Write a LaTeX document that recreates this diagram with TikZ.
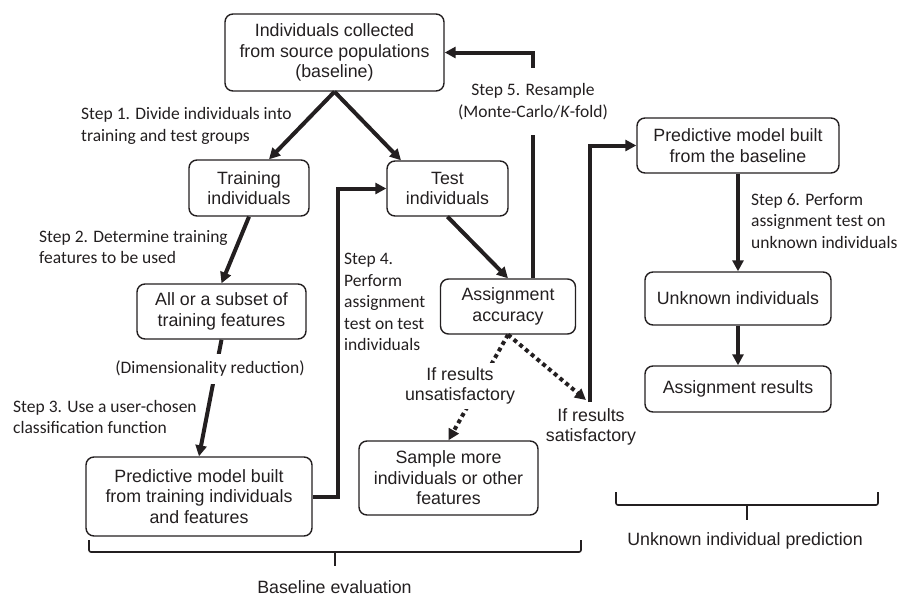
\documentclass[tikz,border=0pt]{standalone}
\usepackage{fontspec}
\setmainfont{Liberation Sans}
\newfontfamily\stepfamily{Carlito}
\usetikzlibrary{arrows.meta}
\newcommand{\boxfnt}{\fontsize{17.8}{20.5}\selectfont}
\newcommand{\stepfnt}{\stepfamily\fontsize{17.5}{21.5}\selectfont}
\definecolor{ink}{HTML}{231F20}
\tikzset{
  box/.style={draw=ink, line width=1.4pt, rounded corners=8pt, align=center, inner sep=0pt, font=\boxfnt, text=ink},
  arr/.style={draw=ink, line width=4pt, -{Triangle[length=11pt,width=11pt]}},
  dotline/.style={draw=ink, line width=4pt, dash pattern=on 4pt off 3.5pt},
  dotarr/.style={dotline, -{Triangle[length=11pt,width=11pt]}},
  lbl/.style={font=\stepfnt, align=left, inner sep=0pt, text=ink},
  plainlbl/.style={font=\boxfnt, align=center, inner sep=0pt, text=ink},
  bracepath/.style={draw=ink, line width=1.6pt, rounded corners=2pt}
}
\begin{document}
\begin{tikzpicture}[x=1pt,y=-1pt]
\useasboundingbox (0,0) rectangle (914,598);

% boxes
\node[box, minimum width=219pt, minimum height=77pt] (top) at (334.5,52.5) {Individuals collected\\from source populations\\(baseline)};
\node[box, minimum width=120pt, minimum height=56pt] (train) at (249,188) {Training\\individuals};
\node[box, minimum width=121pt, minimum height=55pt] (test) at (447.5,188.5) {Test\\individuals};
\node[box, minimum width=169pt, minimum height=55pt] (subset) at (221.5,311.5) {All or a subset of\\training features};
\node[box, minimum width=226pt, minimum height=79pt] (predtrain) at (199,496.5) {Predictive model built\\from training individuals\\and features};
\node[box, minimum width=179pt, minimum height=74pt] (sample) at (448.5,478) {Sample more\\individuals or other\\features};
\node[box, minimum width=135pt, minimum height=55pt] (acc) at (508,306.5) {Assignment\\accuracy};
\node[box, minimum width=202pt, minimum height=55pt] (predbase) at (738,145.5) {Predictive model built\\from the baseline};
\node[box, minimum width=186pt, minimum height=53pt] (unknown) at (738,298.5) {Unknown individuals};
\node[box, minimum width=186pt, minimum height=46pt] (results) at (738,389) {Assignment results};

% step labels
\node[lbl, anchor=west] (s1) at (81,126) {Step 1. Divide individuals into\\training and test groups};
\node[lbl, anchor=west] (s2) at (39,247) {Step 2. Determine training\\features to be used};
\node[lbl, anchor=west] (s3) at (13,417) {Step 3. Use a user-chosen\\classification function};
\node[lbl, anchor=west] (s4) at (344,302) {Step 4.\\Perform\\assignment\\test on test\\individuals};
\node[lbl, align=center, minimum height=67pt] (s5) at (533,101.5) {Step 5. Resample\\(Monte-Carlo/\textit{K}-fold)};
\node[lbl, anchor=west] (s6) at (751,221) {Step 6. Perform\\assignment test on\\unknown individuals};

% connectors
\draw[arr] (top.south) -- ([xshift=20pt]train.north);
\draw[arr] (top.south) -- ([xshift=-46.5pt]test.north);
\draw[arr] (train.south) -- (subset.north);
\draw[arr] (subset.south) -- (predtrain.north);
\node[lbl, fill=white, inner xsep=2pt, inner ysep=7pt] (dim) at (210,369) {(Dimensionality reduction)};
\draw[arr] (predtrain.east) -- ++(25,0) |- (test.west);
\draw[arr] (test.south) -- (acc.north);
\draw[draw=ink, line width=4pt] ([xshift=25pt]acc.north) -- (s5.south);
\draw[arr] (s5.north) |- (top.east);

\coordinate (sat) at (590,402);
\coordinate (sattip) at (586,400);
\draw[arr] (sat) |- (predbase.west);
\draw[dotarr] (acc.south) -- (sattip);
\node[plainlbl] (satlbl) at (591,427) {If results\\satisfactory};

\draw[dotarr] (acc.south) -- (sample.north);
\node[plainlbl, fill=white, inner sep=4pt] (unsat) at (460,386) {If results\\unsatisfactory};

\draw[arr] (predbase.south) -- (unknown.north);
\draw[arr] (unknown.south) -- (results.north);

% braces
\coordinate (b1l) at (89,540);
\coordinate (b1r) at (581,540);
\coordinate (b1m) at (335,552);
\coordinate (b1t) at (335,566);
\draw[bracepath] (b1l) |- (b1m) -| (b1r);
\draw[draw=ink, line width=1.6pt] (b1m) -- (b1t);
\node[plainlbl] (bl1) at (334.5,587) {Baseline evaluation};

\coordinate (b2l) at (616,492);
\coordinate (b2r) at (878,492);
\coordinate (b2m) at (747,505);
\coordinate (b2t) at (747,520);
\draw[bracepath] (b2l) |- (b2m) -| (b2r);
\draw[draw=ink, line width=1.6pt] (b2m) -- (b2t);
\node[plainlbl] (bl2) at (745,541) {Unknown individual prediction};
\end{tikzpicture}
\end{document}
